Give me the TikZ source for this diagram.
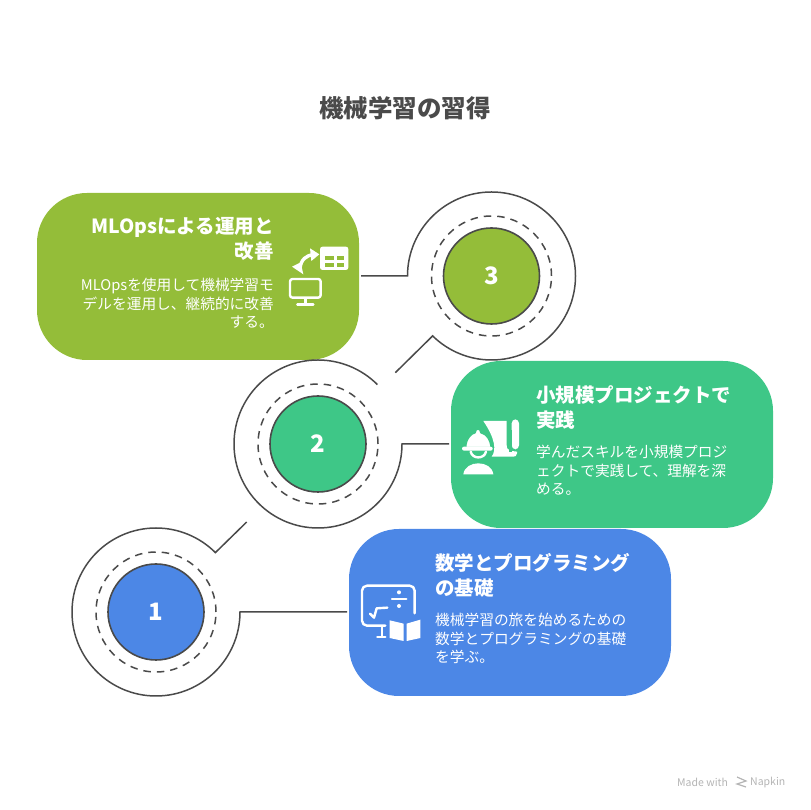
\documentclass[tikz,border=0pt]{standalone}
\usepackage{fontspec}
\setmainfont{Noto Sans CJK JP}
\definecolor{olivebox}{HTML}{94BD39}
\definecolor{tealbox}{HTML}{3EC787}
\definecolor{bluebox}{HTML}{4C87E6}
\definecolor{inkline}{HTML}{4A4A4A}
\definecolor{footgray}{HTML}{B4B4B4}
\tikzset{
  cardbox/.style={rounded corners=50pt, minimum width=322pt, minimum height=167pt, inner sep=0pt, outer sep=2pt},
  ringzone/.style={circle, minimum size=168pt, inner sep=0pt, outer sep=0pt},
  numdot/.style={circle, draw=inkline, line width=1.6pt, minimum size=96pt, inner sep=0pt, text=white, font=\bfseries\fontsize{24}{24}\selectfont},
  ringline/.style={draw=inkline, line width=1.5pt},
  dashring/.style={draw=inkline, line width=1.5pt, dash pattern=on 7.5pt off 6pt},
  headtext/.style={text=white, inner sep=0pt, font=\bfseries\fontsize{19.5}{25}\selectfont},
  bodytext/.style={text=white, inner sep=0pt, font=\fontsize{14.7}{18.5}\selectfont},
  iconstroke/.style={draw=white, line width=2.4pt, line cap=round, line join=round}
}
\begin{document}
\begin{tikzpicture}[x=1pt,y=1pt]
\useasboundingbox (0,0) rectangle (810,810);

\node[inner sep=0pt, text=inkline, font=\bfseries\fontsize{24.5}{24.5}\selectfont] (title) at (405,702) {機械学習の習得};

\node[cardbox, fill=olivebox] (box3) at (198,533.5) {};
\node[cardbox, fill=tealbox] (box2) at (612,365.5) {};
\node[cardbox, fill=bluebox] (box1) at (510,197.5) {};

\node[ringzone] (ring3) at (491.5,534) {};
\node[ringzone] (ring2) at (318,366) {};
\node[ringzone] (ring1) at (156,198) {};
\coordinate (tail3) at (395.3,437.3);
\coordinate (tail1) at (246.7,288);

% rings and their leads
\draw[ringline] (box3.east |- ring3.west) -- (ring3.west) arc[start angle=180, end angle=-134.5, radius=84pt] -- (tail3);
\draw[ringline] (box2.west |- ring2.east) -- (ring2.east) arc[start angle=0, end angle=-315, radius=84pt];
\draw[ringline] (box1.west |- ring1.east) -- (ring1.east) arc[start angle=0, end angle=-315, radius=84pt] -- (tail1);

\draw[dashring] (ring3) circle[radius=60pt];
\draw[dashring] (ring2) circle[radius=60pt];
\draw[dashring] (ring1) circle[radius=60pt];

\node[numdot, fill=olivebox] (num3) at (ring3) {3};
\node[numdot, fill=tealbox] (num2) at (ring2) {2};
\node[numdot, fill=bluebox] (num1) at (ring1) {1};

\node[headtext, anchor=north east, align=right] (head3) at (274,593) {MLOpsによる運用と\\改善};
\node[bodytext, anchor=north east, align=right] (body3) at (274,532) {MLOpsを使用して機械学習モ\\デルを運用し、継続的に改善\\する。};
\node[headtext, anchor=north west, align=left] (head2) at (536,425) {小規模プロジェクトで\\実践};
\node[bodytext, anchor=north west, align=left] (body2) at (536,365) {学んだスキルを小規模プロジ\\ェクトで実践して、理解を深\\める。};
\node[headtext, anchor=north west, align=left] (head1) at (435,257) {数学とプログラミング\\の基礎};
\node[bodytext, anchor=north west, align=left] (body1) at (435,197) {機械学習の旅を始めるための\\数学とプログラミングの基礎\\を学ぶ。};

% icon of box 3
\begin{scope}[shift={(280,575)},scale=1/3,yscale=-1]
\fill[white, rounded corners=2.5pt] (120,35) rectangle (205,105);
\fill[olivebox] (135,62) rectangle (163,75);
\fill[olivebox] (135,84) rectangle (163,96);
\fill[olivebox] (171,62) rectangle (192,75);
\fill[olivebox] (171,84) rectangle (192,96);
\draw[iconstroke, rounded corners=2.5pt] (30,132) rectangle (122,188);
\draw[iconstroke] (76,190) -- (76,207);
\draw[iconstroke] (52,208) -- (100,208);
\draw[white, line width=3.4pt] (60,102) .. controls (62,72) and (80,62) .. (100,58);
\fill[white] (36,95) -- (62,82) -- (70,118) -- cycle;
\fill[white] (90,40) -- (118,58) -- (94,78) -- cycle;
\end{scope}

% icon of box 2
\begin{scope}[shift={(455,400)},scale=1/3,yscale=-1]
\fill[white] (85,33) -- (155,33) -- (155,105) .. controls (155,125) and (170,122) .. (186,125) -- (186,130) .. controls (186,138) and (180,140) .. (175,140) -- (110,140) .. controls (125,120) and (120,85) .. cycle;
\fill[white, rounded corners=4pt] (170,28) -- (192,28) -- (192,118) -- (170,118) -- cycle;
\fill[tealbox] (163,60) rectangle (170,125);
\fill[white, draw=tealbox, line width=1.6pt] (32,113) .. controls (32,85) and (50,70) .. (60,68) -- (64,58) -- (74,58) -- (78,68) .. controls (95,72) and (108,90) .. (108,113) -- cycle;
\fill[white, rounded corners=2pt] (21,110) rectangle (113,122);
\draw[iconstroke] (47,125) .. controls (52,148) and (88,148) .. (93,125);
\fill[white] (25,193) .. controls (28,170) and (50,160) .. (70,160) .. controls (90,160) and (112,170) .. (115,193) -- cycle;
\end{scope}

% icon of box 1
\begin{scope}[shift={(352,235)},scale=1/3,yscale=-1]
\draw[iconstroke, rounded corners=5pt] (100,152) -- (30,152) -- (30,32) -- (188,32) -- (188,115);
\draw[iconstroke] (90,155) -- (90,184);
\draw[iconstroke] (76,186) -- (100,186);
\draw[iconstroke] (120,72) -- (163,72);
\fill[white] (141,52) circle[radius=6];
\fill[white] (141,93) circle[radius=6];
\draw[iconstroke] (54,116) -- (66,128) -- (74,100) -- (106,98);
\fill[white] (113,136) -- (155,146) -- (155,198) -- (113,189) -- cycle;
\fill[white] (164,146) -- (205,134) -- (205,189) -- (164,198) -- cycle;
\end{scope}

% footer
\node[inner sep=0pt, anchor=west, text=footgray, font=\fontsize{10.5}{10.5}\selectfont] (madewith) at (677,27.5) {Made with};
\node[inner sep=0pt, anchor=west, text=footgray, font=\fontsize{10.5}{10.5}\selectfont] (napkin) at (750,27.5) {Napkin};
\draw[footgray, line width=1.2pt] (737,33) -- (746,29) -- (737,26) -- (746,23);
\end{tikzpicture}
\end{document}
